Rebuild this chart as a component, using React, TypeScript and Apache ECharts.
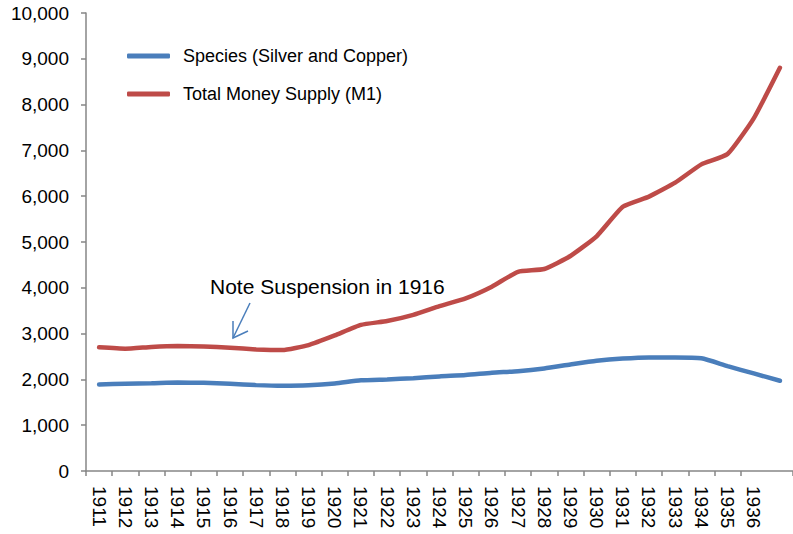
import React, { useEffect, useRef } from "react";
import * as echarts from "echarts";

const years = [
  "1911", "1912", "1913", "1914", "1915", "1916", "1917", "1918", "1919", "1920",
  "1921", "1922", "1923", "1924", "1925", "1926", "1927", "1928", "1929", "1930",
  "1931", "1932", "1933", "1934", "1935", "1936", "1937",
];

const species = [
  1890, 1905, 1915, 1930, 1925, 1905, 1875, 1860, 1870, 1910,
  1980, 2000, 2025, 2065, 2095, 2145, 2180, 2240, 2325, 2405,
  2455, 2480, 2480, 2460, 2290, 2130, 1970,
];

const totalM1 = [
  2700, 2670, 2710, 2730, 2720, 2690, 2655, 2640, 2750, 2960,
  3190, 3275, 3410, 3600, 3770, 4025, 4350, 4410, 4695, 5125,
  5770, 5990, 6295, 6695, 6920, 7700, 8805,
];

const seriesNames = ["Species (Silver and Copper)", "Total Money Supply (M1)"];
const annotation = "Note Suspension in 1916";

const BLUE = "#4A7EBB";
const RED = "#BE4B48";
const FONT = "'Liberation Sans', Arial, Helvetica, sans-serif";

export default function App() {
  const ref = useRef<HTMLDivElement>(null);

  useEffect(() => {
    if (!ref.current) return;
    const chart = echarts.init(ref.current, null, { renderer: "svg" });
    chart.setOption({
      animation: false,
      backgroundColor: "#ffffff",
      textStyle: { fontFamily: FONT },
      grid: { left: 86, top: 13, bottom: 63, right: -4 },
      legend: {
        orient: "vertical",
        left: 127,
        top: 46,
        padding: 0,
        itemWidth: 43,
        itemHeight: 5,
        itemGap: 18,
        icon: "roundRect",
        textStyle: { fontSize: 18, color: "#000", fontFamily: FONT, lineHeight: 20, padding: [0, 0, 0, 8] },
        data: seriesNames,
      },
      xAxis: {
        type: "category",
        data: years,
        boundaryGap: true,
        axisLine: { lineStyle: { color: "#868686", width: 1.5 } },
        axisTick: { show: true, length: 5, lineStyle: { color: "#868686", width: 1.5 } },
        axisLabel: {
          rotate: -90,
          interval: (idx: number) => idx < years.length - 1,
          fontSize: 19,
          color: "#000",
          fontFamily: FONT,
          margin: 15,
        },
        splitLine: { show: false },
      },
      yAxis: {
        type: "value",
        min: 0,
        max: 10000,
        interval: 1000,
        axisLine: { show: true, lineStyle: { color: "#868686", width: 1.5 } },
        axisTick: { show: true, length: 5, lineStyle: { color: "#868686", width: 1.5 } },
        axisLabel: {
          fontSize: 19,
          color: "#000",
          fontFamily: FONT,
          margin: 17,
          formatter: (v: number) => v.toLocaleString("en-US"),
        },
        splitLine: { show: false },
      },
      series: [
        {
          name: seriesNames[0],
          type: "line",
          data: species,
          symbol: "none",
          smooth: 0.2,
          color: BLUE,
          lineStyle: { color: BLUE, width: 4.5, cap: "round" },
        },
        {
          name: seriesNames[1],
          type: "line",
          data: totalM1,
          symbol: "none",
          smooth: 0.15,
          color: RED,
          lineStyle: { color: RED, width: 4.5, cap: "round" },
        },
      ],
      graphic: [
        {
          type: "text",
          left: 210,
          top: 276,
          style: { text: annotation, fontSize: 21, fontFamily: FONT, fill: "#000" },
        },
        {
          type: "polyline",
          shape: { points: [[250, 303], [233, 338]] },
          style: { stroke: BLUE, lineWidth: 1.5, fill: "none" },
        },
        {
          type: "polyline",
          shape: { points: [[233, 321], [233, 338], [248, 331]] },
          style: { stroke: BLUE, lineWidth: 1.5, fill: "none" },
        },
      ],
    });
    return () => chart.dispose();
  }, []);

  return <div ref={ref} style={{ width: 793, height: 534, position: "absolute", left: 0, top: 0 }} />;
}
